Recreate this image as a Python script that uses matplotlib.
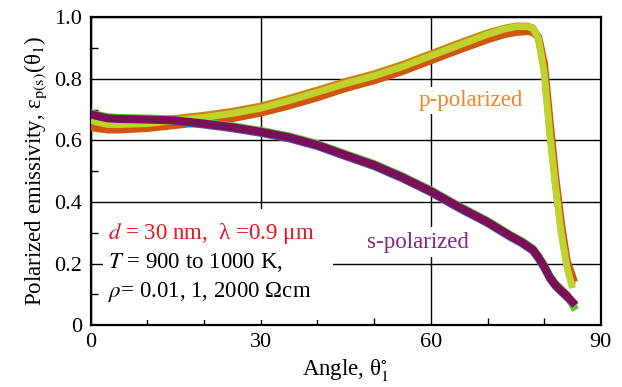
import matplotlib.pyplot as plt
from matplotlib.patches import Rectangle
from matplotlib.ticker import MultipleLocator

plt.rcParams['font.family'] = ['Liberation Serif', 'DejaVu Serif']
plt.rcParams['mathtext.fontset'] = 'stix'

# p-polarized emissivity (several samples overlap)
theta_p = [0, 1, 3, 5, 10, 15, 20, 25, 30, 35, 40, 45, 50, 55, 60, 65,
           70, 73, 75, 77, 78, 79, 80, 81, 82, 83, 84, 85]
p_green = [0.665, 0.66, 0.652, 0.652, 0.655, 0.665, 0.675, 0.688, 0.705,
           0.73, 0.757, 0.785, 0.81, 0.84, 0.875, 0.91, 0.945, 0.962, 0.97,
           0.97, 0.965, 0.93, 0.82, 0.62, 0.45, 0.30, 0.19, 0.12]
theta_p2 = [0, 1, 3, 5, 10, 15, 20, 25, 30, 35, 40, 45, 50, 55, 60, 65,
            70, 73, 75, 77, 78, 79, 80, 81, 82, 83, 84, 85.3]
p_orange = [0.643, 0.64, 0.635, 0.635, 0.64, 0.65, 0.66, 0.672, 0.69,
            0.713, 0.74, 0.77, 0.795, 0.825, 0.86, 0.895, 0.928, 0.945,
            0.952, 0.955, 0.952, 0.935, 0.85, 0.66, 0.48, 0.33, 0.21, 0.14]
p_gold = [0.672, 0.668, 0.66, 0.66, 0.663, 0.672, 0.682, 0.695, 0.712,
          0.737, 0.764, 0.792, 0.817, 0.847, 0.882, 0.917, 0.95, 0.965,
          0.972, 0.972, 0.966, 0.935, 0.83, 0.63, 0.46, 0.31, 0.2, 0.13]

# s-polarized emissivity
theta_s = [0, 1, 3, 5, 10, 15, 20, 25, 30, 35, 40, 45, 50, 55, 60, 65, 70,
           74, 76, 78, 79, 80, 81, 82, 83, 84, 85]
s_purple = [0.685, 0.68, 0.672, 0.67, 0.668, 0.665, 0.655, 0.643, 0.628,
            0.61, 0.585, 0.552, 0.52, 0.48, 0.435, 0.383, 0.335, 0.29,
            0.27, 0.245, 0.22, 0.19, 0.155, 0.13, 0.112, 0.095, 0.075]

fig = plt.figure(figsize=(6.22, 3.87), dpi=100)
ax = fig.add_axes([0.146, 0.160, 0.82, 0.795])

ax.grid(True, which='major', color='black', linewidth=1.0)
ax.set_axisbelow(True)

# p-polarized bundle
ax.plot(theta_p, p_gold, color='#C98414', lw=5, solid_capstyle='butt', zorder=3)
ax.plot(theta_p2, p_orange, color='#CF560C', lw=5.5, solid_capstyle='butt', zorder=3)
ax.plot(theta_p, p_green, color='#BFD22E', lw=5, solid_capstyle='butt', zorder=4)

# s-polarized bundle
s_blue = [v - 0.004 for v in s_purple]
s_green = [v + 0.004 for v in s_purple]
ax.plot(theta_s, s_blue, color='#4A5FA8', lw=5.5, zorder=3)
ax.plot(theta_s[:-1] + [85.2], s_green[:-1] + [0.06], color='#6DBB45', lw=5.5, zorder=3)
ax.plot(theta_s, s_purple, color='#7A1058', lw=5.8, zorder=4)

ax.set_xlim(0, 90)
ax.set_ylim(0, 1.0)
ax.xaxis.set_major_locator(MultipleLocator(30))
ax.xaxis.set_minor_locator(MultipleLocator(10))
ax.yaxis.set_minor_locator(MultipleLocator(0.1))
ax.set_yticks([0, 0.2, 0.4, 0.6, 0.8, 1.0])
ax.set_yticklabels(['0', '0.2', '0.4', '0.6', '0.8', '1.0'])
ax.tick_params(which='both', direction='in', labelsize=16, top=False, right=False)
ax.tick_params(which='major', length=0, pad=6)
ax.tick_params(which='minor', length=5, width=1.0)
for s in ax.spines.values():
    s.set_linewidth(1.6)

ax.set_xlabel('Angle, θ$_1^{\\circ}$', fontsize=16.5, labelpad=3)
ax.set_ylabel('Polarized emissivity, ε$_{\\rm p(s)}$(θ$_1$)',
              fontsize=16.5, labelpad=4)

ax.text(57.8, 0.73, 'p-polarized', color='#F5841F', fontsize=16.5,
        ha='left', va='center', zorder=2,
        bbox=dict(facecolor='white', edgecolor='none', pad=2))
ax.text(48.8, 0.27, 's-polarized', color='#8A2386', fontsize=16.5,
        ha='left', va='center', zorder=2,
        bbox=dict(facecolor='white', edgecolor='none', pad=3))

# white panel behind the conditions
ax.add_patch(Rectangle((2.2, 0.016), 40.6, 0.36, facecolor='white',
                       edgecolor='none', zorder=2))
ax.text(3.0, 0.299, '$\\mathit{d}$ = 30 nm,  λ =0.9 μm', color='#E8141E',
        fontsize=16.5, ha='left', va='center', zorder=6)
ax.text(3.0, 0.202, '$\\mathit{T}$ = 900 to 1000 K,', color='black',
        fontsize=16.5, ha='left', va='center', zorder=6)
ax.text(3.0, 0.107, '$\\rho$= 0.01, 1, 2000 Ωcm', color='black',
        fontsize=16.5, ha='left', va='center', zorder=6)

fig.savefig('out.png', dpi=100)
